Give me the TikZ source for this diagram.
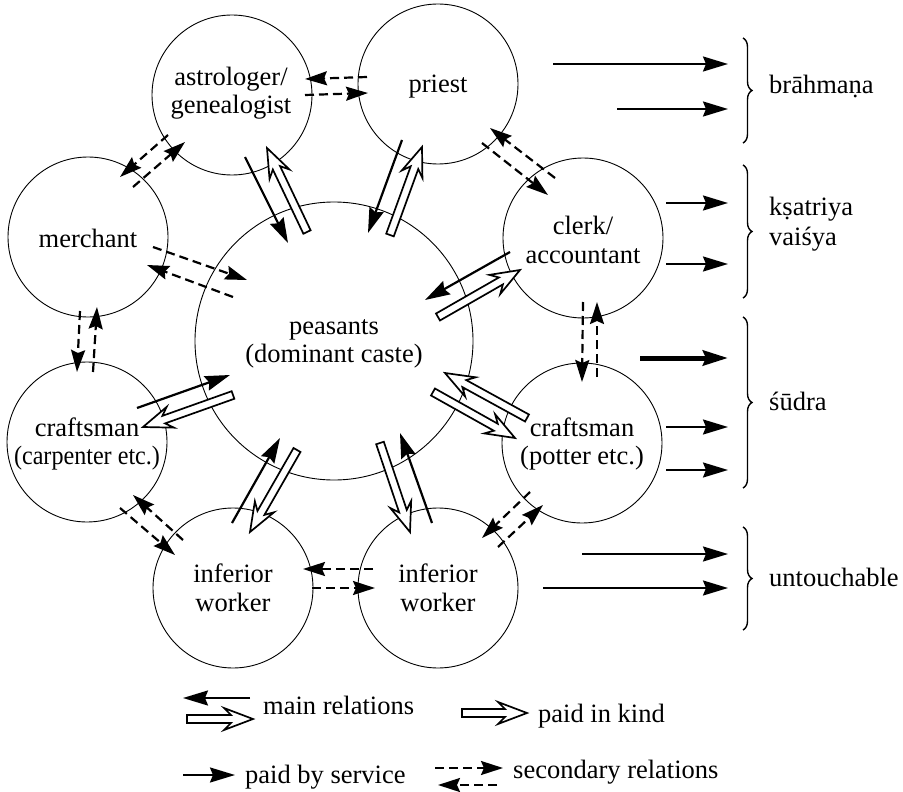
\documentclass[tikz,border=0pt]{standalone}
\usepackage{fontspec}
\setmainfont{Liberation Serif}
\usetikzlibrary{arrows.meta,calc,decorations.pathreplacing}

% open "paid in kind" arrow: wide hollow shaft with a notched head
\newcommand{\kindarrow}[2]{%
  \coordinate (kb) at ($(#2)!29pt!(#1)$);
  \coordinate (kn) at ($(#2)!22pt!(#1)$);
  \draw[kind] (#2) -- ($(kb)!11pt!90:(#2)$) -- ($(kn)!4pt!90:(#2)$)
    -- ($(#1)!4pt!90:(#2)$) -- ($(#1)!4pt!-90:(#2)$)
    -- ($(kn)!4pt!-90:(#2)$) -- ($(kb)!11pt!-90:(#2)$) -- cycle;}

\begin{document}
\begin{tikzpicture}[x=1pt,y=-1pt,
  every node/.style={font=\fontsize{26.5}{28.5}\selectfont},
  caste/.style={circle,draw,line width=0.9pt,minimum size=160pt,inner sep=0pt},
  core/.style={circle,draw,line width=0.9pt,minimum size=278pt,inner sep=0pt},
  castename/.style={align=center,inner sep=0pt},
  mainrel/.style={line width=2.2pt,-{Stealth[length=25pt,width=15pt,inset=3pt]}},
  service/.style={line width=2.2pt,-{Stealth[length=25pt,width=15pt,inset=3pt]}},
  heavy/.style={line width=5pt,-{Stealth[length=25pt,width=15pt,inset=3pt]}},
  secrel/.style={line width=2.2pt,dash pattern=on 9pt off 5pt,
                 -{Stealth[length=22pt,width=14pt,inset=3pt]}},
  kind/.style={line width=1.7pt,fill=white,line join=miter},
  varnabrace/.style={line width=1.4pt,decorate,decoration={brace,amplitude=9pt}},
  varna/.style={anchor=base west,inner sep=0pt},
  legend/.style={anchor=base west,inner sep=0pt}
]
\useasboundingbox (0,0) rectangle (903,792);

% ---------- castes ----------
\node[core]  (peasants)  at (334,341) {};
\node[caste] (astro)     at (232,95)  {};
\node[caste] (priest)    at (438,84)  {};
\node[caste] (merchant)  at (88,237)  {};
\node[caste] (clerk)     at (583,238) {};
\node[caste] (carpenter) at (87,442)  {};
\node[caste] (potter)    at (582,443) {};
\node[caste] (workerL)   at (233,588) {};
\node[caste] (workerR)   at (438,588) {};

\node[castename] (peasantsT)  at (334,344) {peasants\\(dominant caste)};
\node[castename] (astroT)     at (231,93)   {astrologer/\\genealogist};
\node[castename] (priestT)    at (438,87)   {priest};
\node[castename] (merchantT)  at (88,238)   {merchant};
\node[castename] (clerkT)     at (583,240)  {clerk/\\accountant};
\node[castename] (carpenterT) at (87,444)   {craftsman\\\scalebox{0.91}[1]{(carpenter etc.)}};
\node[castename] (potterT)    at (582,444)  {craftsman\\(potter etc.)};
\node[castename] (workerLT)   at (233,588)  {inferior\\worker};
\node[castename] (workerRT)   at (438,588)  {inferior\\worker};

% ---------- arrow end points ----------
% astrologer -- peasants
\coordinate (ap1) at (245,157); \coordinate (ap2) at (288,243);
\coordinate (ap3) at (307,232); \coordinate (ap4) at (267,148);
% priest -- peasants
\coordinate (pp1) at (402,140); \coordinate (pp2) at (368,233);
\coordinate (pp3) at (390,235); \coordinate (pp4) at (422,147);
% clerk -- peasants
\coordinate (cp1) at (510,252); \coordinate (cp2) at (425,300);
\coordinate (cp3) at (438,317); \coordinate (cp4) at (520,270);
% potter -- peasants
\coordinate (tp1) at (527,418); \coordinate (tp2) at (445,373);
\coordinate (tp3) at (433,392); \coordinate (tp4) at (515,438);
% right worker -- peasants
\coordinate (rp1) at (380,443); \coordinate (rp2) at (410,532);
\coordinate (rp3) at (432,523); \coordinate (rp4) at (400,433);
% left worker -- peasants
\coordinate (lp1) at (232,523); \coordinate (lp2) at (280,438);
\coordinate (lp3) at (297,450); \coordinate (lp4) at (250,532);
% carpenter -- peasants
\coordinate (kp1) at (137,408); \coordinate (kp2) at (230,375);
\coordinate (kp3) at (233,395); \coordinate (kp4) at (143,427);
% merchant -- peasants
\coordinate (mp1) at (153,247); \coordinate (mp2) at (247,280);
\coordinate (mp3) at (233,297); \coordinate (mp4) at (147,265);
% neighbours on the ring
\coordinate (ax1) at (367,77);  \coordinate (ax2) at (305,79);
\coordinate (ax3) at (305,95);  \coordinate (ax4) at (368,93);
\coordinate (ma1) at (168,135); \coordinate (ma2) at (120,177);
\coordinate (ma3) at (133,187); \coordinate (ma4) at (185,142);
\coordinate (pc1) at (555,178); \coordinate (pc2) at (490,128);
\coordinate (pc3) at (482,143); \coordinate (pc4) at (548,195);
\coordinate (ct1) at (583,302); \coordinate (ct2) at (582,382);
\coordinate (ct3) at (597,377); \coordinate (ct4) at (597,302);
\coordinate (mk1) at (80,311);  \coordinate (mk2) at (77,372);
\coordinate (mk3) at (93,372);  \coordinate (mk4) at (97,307);
\coordinate (kl1) at (120,508); \coordinate (kl2) at (175,555);
\coordinate (kl3) at (183,540); \coordinate (kl4) at (133,495);
\coordinate (lr1) at (373,569); \coordinate (lr2) at (303,569);
\coordinate (lr3) at (312,588); \coordinate (lr4) at (375,588);
\coordinate (rt1) at (530,492); \coordinate (rt2) at (482,538);
\coordinate (rt3) at (498,547); \coordinate (rt4) at (543,505);

% ---------- main relations ----------
\draw[mainrel] (ap1) -- (ap2);  \kindarrow{ap3}{ap4}
\draw[mainrel] (pp1) -- (pp2);  \kindarrow{pp3}{pp4}
\draw[mainrel] (cp1) -- (cp2);  \kindarrow{cp3}{cp4}
\kindarrow{tp1}{tp2}            \kindarrow{tp3}{tp4}
\kindarrow{rp1}{rp2}            \draw[mainrel] (rp3) -- (rp4);
\draw[mainrel] (lp1) -- (lp2);  \kindarrow{lp3}{lp4}
\draw[mainrel] (kp1) -- (kp2);  \kindarrow{kp3}{kp4}

% ---------- secondary relations ----------
\draw[secrel] (mp1) -- (mp2);  \draw[secrel] (mp3) -- (mp4);
\draw[secrel] (ax1) -- (ax2);  \draw[secrel] (ax3) -- (ax4);
\draw[secrel] (ma1) -- (ma2);  \draw[secrel] (ma3) -- (ma4);
\draw[secrel] (pc1) -- (pc2);  \draw[secrel] (pc3) -- (pc4);
\draw[secrel] (ct1) -- (ct2);  \draw[secrel] (ct3) -- (ct4);
\draw[secrel] (mk1) -- (mk2);  \draw[secrel] (mk3) -- (mk4);
\draw[secrel] (kl1) -- (kl2);  \draw[secrel] (kl3) -- (kl4);
\draw[secrel] (lr1) -- (lr2);  \draw[secrel] (lr3) -- (lr4);
\draw[secrel] (rt1) -- (rt2);  \draw[secrel] (rt3) -- (rt4);

% ---------- varna column ----------
\coordinate (b1s) at (553,64);  \coordinate (b1e) at (728,64);
\coordinate (b2s) at (617,109); \coordinate (b2e) at (728,109);
\coordinate (k1s) at (666,203); \coordinate (k1e) at (728,203);
\coordinate (k2s) at (666,264); \coordinate (k2e) at (728,264);
\coordinate (s1s) at (640,358); \coordinate (s1e) at (728,358);
\coordinate (s2s) at (666,427); \coordinate (s2e) at (728,427);
\coordinate (s3s) at (666,470); \coordinate (s3e) at (728,470);
\coordinate (u1s) at (582,554); \coordinate (u1e) at (728,554);
\coordinate (u2s) at (543,588); \coordinate (u2e) at (728,588);

\draw[service] (b1s) -- (b1e);  \draw[service] (b2s) -- (b2e);
\draw[service] (k1s) -- (k1e);  \draw[service] (k2s) -- (k2e);
\draw[heavy]   (s1s) -- (s1e);
\draw[service] (s2s) -- (s2e);  \draw[service] (s3s) -- (s3e);
\draw[service] (u1s) -- (u1e);  \draw[service] (u2s) -- (u2e);

\draw[varnabrace] (743,38)  -- (743,143);
\draw[varnabrace] (743,165) -- (743,298);
\draw[varnabrace] (743,317) -- (743,488);
\draw[varnabrace] (743,527) -- (743,630);

\node[varna] (brahmana)    at (769,94)  {brāhmaṇa};
\node[varna] (ksatriya)    at (769,215) {kṣatriya};
\node[varna] (vaisya)      at (769,245) {vaiśya};
\node[varna] (sudra)       at (769,410) {śūdra};
\node[varna] (untouchable) at (769,586) {untouchable};

% ---------- legend ----------
\coordinate (lm1) at (250,698); \coordinate (lm2) at (183,698);
\coordinate (lm3) at (187,719); \coordinate (lm4) at (253,719);
\coordinate (lk1) at (462,713); \coordinate (lk2) at (527,713);
\coordinate (ls1) at (183,775); \coordinate (ls2) at (235,775);
\coordinate (ld1) at (435,768); \coordinate (ld2) at (503,768);
\coordinate (ld3) at (497,785); \coordinate (ld4) at (438,785);

\draw[mainrel] (lm1) -- (lm2);  \kindarrow{lm3}{lm4}
\kindarrow{lk1}{lk2}
\draw[service] (ls1) -- (ls2);
\draw[secrel] (ld1) -- (ld2);   \draw[secrel] (ld3) -- (ld4);

\node[legend] (legmain)    at (263,714) {main relations};
\node[legend] (legkind)    at (538,722) {paid in kind};
\node[legend] (legservice) at (245,783) {paid by service};
\node[legend] (legsec)     at (513,778) {secondary relations};
\end{tikzpicture}
\end{document}
